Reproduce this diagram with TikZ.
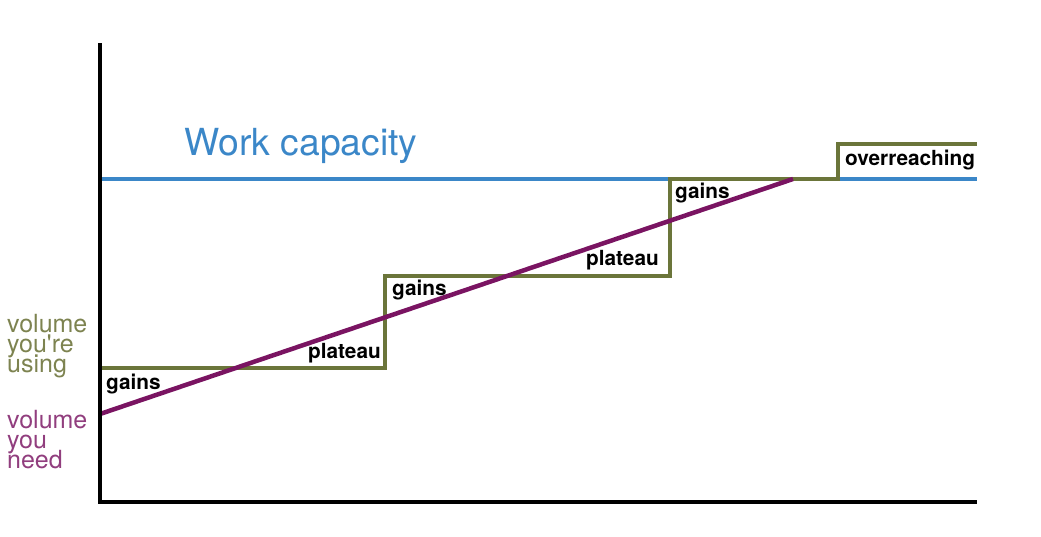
\documentclass[tikz,border=0pt]{standalone}
\usepackage{fontspec}
\setmainfont{TeX Gyre Heros}
\newfontfamily\lightfont{TeX Gyre Heros}
\definecolor{capblue}{RGB}{59,135,200}
\definecolor{olive}{RGB}{107,117,58}
\definecolor{olivetext}{RGB}{125,131,80}
\definecolor{plum}{RGB}{122,20,98}
\definecolor{plumtext}{RGB}{145,62,126}
\tikzset{
  axisline/.style={line width=4.5pt, black},
  capline/.style={line width=3.5pt, capblue},
  useline/.style={line width=3.5pt, olive},
  needline/.style={line width=4.5pt, plum},
  steplabel/.style={inner sep=0pt, font=\bfseries\fontsize{20.8}{22}\selectfont, text=black},
  sidelabel/.style={inner sep=0pt, anchor=base west, font=\lightfont\fontsize{25}{20}\selectfont},
}
\begin{document}
\begin{tikzpicture}[x=1pt,y=-1pt]
\useasboundingbox (0,0) rectangle (1041,536);
% coordinates
\coordinate (top) at (100,43);
\coordinate (origin) at (100,502);
\coordinate (xend) at (977,502);
\coordinate (capL) at (100,179);
\coordinate (capR) at (977,179);
\coordinate (s0) at (100,368);
\coordinate (s1) at (385,368);
\coordinate (s2) at (385,276);
\coordinate (s3) at (670,276);
\coordinate (s4) at (670,179);
\coordinate (s5) at (838,179);
\coordinate (s6) at (838,144);
\coordinate (s7) at (977,144);
\coordinate (n0) at (100,414);
\coordinate (n1) at (793,179);
% lines
\draw[capline] (capL) -- (capR);
\draw[useline, line join=miter] (s0) -- (s1) -- (s2) -- (s3) -- (s4) -- (s5) -- (s6) -- (s7);
\draw[needline] (n0) -- (n1);
\draw[axisline, line join=miter] (top) -- (origin) -- (xend);
% labels
\node[inner sep=0pt, anchor=base west, text=capblue, font=\lightfont\fontsize{37.3}{40}\selectfont] (cap) at (184,155) {Work capacity};
\node[steplabel, anchor=base west] (g1) at (106,389) {gains};
\node[steplabel, anchor=base east] (p1) at (381,358) {plateau};
\node[steplabel, anchor=base west] (g2) at (392,295) {gains};
\node[steplabel, anchor=base east] (p2) at (659,265) {plateau};
\node[steplabel, anchor=base west] (g3) at (675,198) {gains};
\node[steplabel, anchor=base west] (ov) at (845,165) {overreaching};
\node[sidelabel, text=olivetext] (using1) at (7,332) {volume};
\node[sidelabel, text=olivetext] (using2) at (7,352) {you're};
\node[sidelabel, text=olivetext] (using3) at (7,372) {using};
\node[sidelabel, text=plumtext] (need1) at (7,428) {volume};
\node[sidelabel, text=plumtext] (need2) at (7,448) {you};
\node[sidelabel, text=plumtext] (need3) at (7,468) {need};
\end{tikzpicture}
\end{document}
